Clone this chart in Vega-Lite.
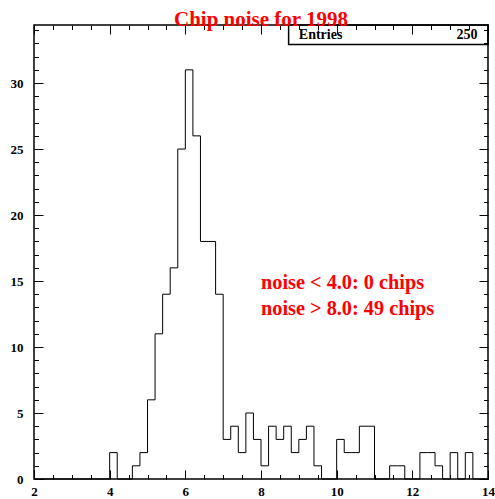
{
  "$schema": "https://vega.github.io/schema/vega-lite/v6.json",
  "autosize": {"type": "none"},
  "width": 454,
  "height": 454,
  "padding": {"left": 34, "top": 25, "right": 7, "bottom": 20},
  "background": "white",
  "title": {
    "text": "Chip noise for 1998",
    "font": "Liberation Serif",
    "fontSize": 21,
    "fontWeight": "bold",
    "color": "#ff0000",
    "anchor": "middle",
    "frame": "group",
    "baseline": "alphabetic",
    "offset": 0,
    "dy": 23
  },
  "data": {
    "values": [
      {"noise": 2.0, "count": 0}, {"noise": 2.2, "count": 0}, {"noise": 2.4, "count": 0},
      {"noise": 2.6, "count": 0}, {"noise": 2.8, "count": 0}, {"noise": 3.0, "count": 0},
      {"noise": 3.2, "count": 0}, {"noise": 3.4, "count": 0}, {"noise": 3.6, "count": 0},
      {"noise": 3.8, "count": 0}, {"noise": 4.0, "count": 2}, {"noise": 4.2, "count": 0},
      {"noise": 4.4, "count": 0}, {"noise": 4.6, "count": 1}, {"noise": 4.8, "count": 2},
      {"noise": 5.0, "count": 6}, {"noise": 5.2, "count": 11}, {"noise": 5.4, "count": 14},
      {"noise": 5.6, "count": 16}, {"noise": 5.8, "count": 25}, {"noise": 6.0, "count": 31},
      {"noise": 6.2, "count": 26}, {"noise": 6.4, "count": 18}, {"noise": 6.6, "count": 18},
      {"noise": 6.8, "count": 14}, {"noise": 7.0, "count": 3}, {"noise": 7.2, "count": 4},
      {"noise": 7.4, "count": 2}, {"noise": 7.6, "count": 5}, {"noise": 7.8, "count": 3},
      {"noise": 8.0, "count": 1}, {"noise": 8.2, "count": 4}, {"noise": 8.4, "count": 3},
      {"noise": 8.6, "count": 4}, {"noise": 8.8, "count": 2}, {"noise": 9.0, "count": 3},
      {"noise": 9.2, "count": 4}, {"noise": 9.4, "count": 1}, {"noise": 9.6, "count": 0},
      {"noise": 9.8, "count": 0}, {"noise": 10.0, "count": 3}, {"noise": 10.2, "count": 2},
      {"noise": 10.4, "count": 2}, {"noise": 10.6, "count": 4}, {"noise": 10.8, "count": 4},
      {"noise": 11.0, "count": 0}, {"noise": 11.2, "count": 0}, {"noise": 11.4, "count": 1},
      {"noise": 11.6, "count": 1}, {"noise": 11.8, "count": 0}, {"noise": 12.0, "count": 0},
      {"noise": 12.2, "count": 2}, {"noise": 12.4, "count": 2}, {"noise": 12.6, "count": 1},
      {"noise": 12.8, "count": 0}, {"noise": 13.0, "count": 2}, {"noise": 13.2, "count": 0},
      {"noise": 13.4, "count": 2}, {"noise": 13.6, "count": 0}, {"noise": 13.8, "count": 0},
      {"noise": 14.0, "count": 0}
    ]
  },
  "resolve": {"axis": {"x": "independent", "y": "independent"}},
  "layer": [
    {
      "mark": {"type": "line", "interpolate": "step-after", "color": "black", "strokeWidth": 1},
      "encoding": {
        "x": {"field": "noise", "type": "quantitative",
              "scale": {"domain": [2, 14], "nice": false, "zero": false},
              "axis": {"orient": "bottom", "title": null, "values": [2, 4, 6, 8, 10, 12, 14],
                       "ticks": false, "tickSize": 0, "domain": false, "grid": false,
                       "labelPadding": 6, "labelFont": "Liberation Serif", "labelFontSize": 13,
                       "labelFontWeight": "bold", "labelColor": "black", "labelFlush": false}},
        "y": {"field": "count", "type": "quantitative",
              "scale": {"domain": [0, 34.4], "nice": false},
              "axis": {"orient": "left", "title": null, "values": [0, 5, 10, 15, 20, 25, 30],
                       "ticks": false, "tickSize": 0, "domain": false, "grid": false,
                       "labelPadding": 11, "labelFont": "Liberation Serif", "labelFontSize": 13,
                       "labelFontWeight": "bold", "labelColor": "black"}}
      }
    },
    {
      "mark": {"type": "line", "opacity": 0},
      "encoding": {
        "x": {"field": "noise", "type": "quantitative",
              "axis": {"orient": "bottom", "title": null, "values": [2, 4, 6, 8, 10, 12, 14],
                       "labels": false, "tickSize": -9, "tickColor": "black", "tickWidth": 1,
                       "domain": false, "grid": false}},
        "y": {"field": "count", "type": "quantitative",
              "axis": {"orient": "left", "title": null, "values": [0, 5, 10, 15, 20, 25, 30],
                       "labels": false, "tickSize": -9, "tickColor": "black", "tickWidth": 1,
                       "domain": false, "grid": false}}
      }
    },
    {
      "mark": {"type": "line", "opacity": 0},
      "encoding": {
        "x": {"field": "noise", "type": "quantitative",
              "axis": {"orient": "bottom", "title": null,
                       "values": [2.5, 3, 3.5, 4.5, 5, 5.5, 6.5, 7, 7.5, 8.5, 9, 9.5, 10.5, 11, 11.5, 12.5, 13, 13.5],
                       "labels": false, "tickSize": -4.5, "tickColor": "black", "tickWidth": 1,
                       "domain": false, "grid": false}},
        "y": {"field": "count", "type": "quantitative",
              "axis": {"orient": "left", "title": null,
                       "values": [1, 2, 3, 4, 6, 7, 8, 9, 11, 12, 13, 14, 16, 17, 18, 19, 21, 22, 23, 24, 26, 27, 28, 29, 31, 32, 33, 34],
                       "labels": false, "tickSize": -4.5, "tickColor": "black", "tickWidth": 1,
                       "domain": false, "grid": false}}
      }
    },
    {
      "mark": {"type": "line", "opacity": 0},
      "encoding": {
        "x": {"field": "noise", "type": "quantitative",
              "axis": {"orient": "top", "title": null, "values": [2, 4, 6, 8, 10, 12, 14],
                       "labels": false, "tickSize": -9, "tickColor": "black", "tickWidth": 1,
                       "domain": false, "grid": false}},
        "y": {"field": "count", "type": "quantitative",
              "axis": {"orient": "right", "title": null, "values": [0, 5, 10, 15, 20, 25, 30],
                       "labels": false, "tickSize": -9, "tickColor": "black", "tickWidth": 1,
                       "domain": false, "grid": false}}
      }
    },
    {
      "mark": {"type": "line", "opacity": 0},
      "encoding": {
        "x": {"field": "noise", "type": "quantitative",
              "axis": {"orient": "top", "title": null,
                       "values": [2.5, 3, 3.5, 4.5, 5, 5.5, 6.5, 7, 7.5, 8.5, 9, 9.5, 10.5, 11, 11.5, 12.5, 13, 13.5],
                       "labels": false, "tickSize": -4.5, "tickColor": "black", "tickWidth": 1,
                       "domain": false, "grid": false}},
        "y": {"field": "count", "type": "quantitative",
              "axis": {"orient": "right", "title": null,
                       "values": [1, 2, 3, 4, 6, 7, 8, 9, 11, 12, 13, 14, 16, 17, 18, 19, 21, 22, 23, 24, 26, 27, 28, 29, 31, 32, 33, 34],
                       "labels": false, "tickSize": -4.5, "tickColor": "black", "tickWidth": 1,
                       "domain": false, "grid": false}}
      }
    },
    {
      "data": {"values": [{}]},
      "mark": {"type": "rect", "fill": null, "fillOpacity": 0, "stroke": "black", "strokeWidth": 1.5},
      "encoding": {
        "x": {"datum": 8.73, "type": "quantitative", "axis": null},
        "x2": {"datum": 14},
        "y": {"datum": 34.4, "type": "quantitative", "axis": null},
        "y2": {"datum": 32.93}
      }
    },
    {
      "data": {"values": [{}]},
      "mark": {"type": "text", "text": "Entries", "align": "left", "baseline": "alphabetic",
               "font": "Liberation Serif", "fontSize": 14, "fontWeight": "bold", "color": "black"},
      "encoding": {
        "x": {"datum": 9.0, "type": "quantitative", "axis": null},
        "y": {"datum": 33.31, "type": "quantitative", "axis": null}
      }
    },
    {
      "data": {"values": [{}]},
      "mark": {"type": "text", "text": "250", "align": "right", "baseline": "alphabetic",
               "font": "Liberation Serif", "fontSize": 14, "fontWeight": "bold", "color": "black"},
      "encoding": {
        "x": {"datum": 13.72, "type": "quantitative", "axis": null},
        "y": {"datum": 33.31, "type": "quantitative", "axis": null}
      }
    },
    {
      "data": {"values": [{}]},
      "mark": {"type": "text", "text": ["noise < 4.0: 0 chips", "noise > 8.0: 49 chips"],
               "align": "left", "baseline": "alphabetic", "lineHeight": 26,
               "font": "Liberation Serif", "fontSize": 20.3, "fontWeight": "bold", "color": "#ff0000"},
      "encoding": {
        "x": {"datum": 8.0, "type": "quantitative", "axis": null},
        "y": {"datum": 14.39, "type": "quantitative", "axis": null}
      }
    }
  ],
  "config": {
    "view": {"stroke": "black", "strokeWidth": 1.5}
  }
}
